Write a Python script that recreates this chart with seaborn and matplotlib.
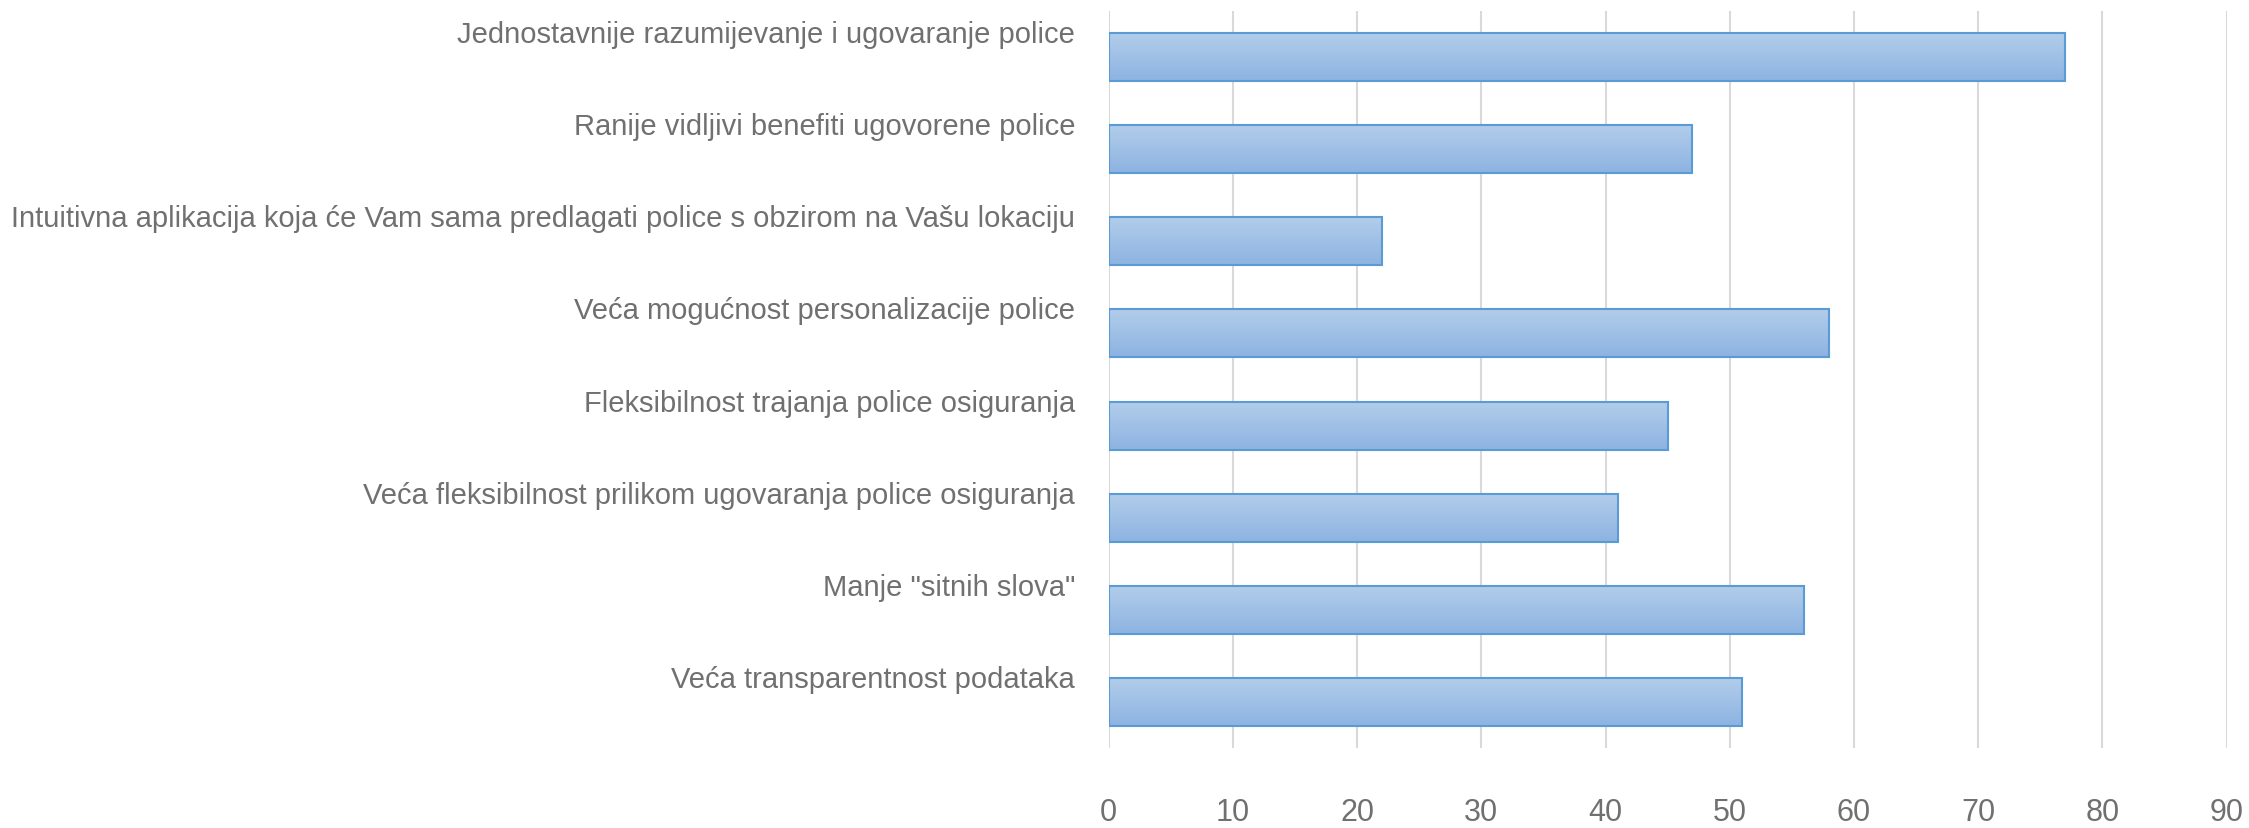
# Gráfico de barras horizontales con degradado
import numpy as np
import pandas as pd
import matplotlib.pyplot as plt
import seaborn as sns
from matplotlib.transforms import blended_transform_factory

# Datos
kategorije = [
    'Jednostavnije razumijevanje i ugovaranje police',
    'Ranije vidljivi benefiti ugovorene police',
    'Intuitivna aplikacija koja će Vam sama predlagati police s obzirom na Vašu lokaciju',
    'Veća mogućnost personalizacije police',
    'Fleksibilnost trajanja police osiguranja',
    'Veća fleksibilnost prilikom ugovaranja police osiguranja',
    'Manje "sitnih slova"',
    'Veća transparentnost podataka',
]
vrijednosti = [77, 47, 22, 58, 45, 41, 56, 51]
x_ticks = [0, 10, 20, 30, 40, 50, 60, 70, 80, 90]

df = pd.DataFrame({'kategorija': kategorije, 'vrijednost': vrijednosti})

sns.set_style('white')
plt.rcParams['font.family'] = ['Liberation Sans Narrow', 'Liberation Sans', 'DejaVu Sans']

fig = plt.figure(figsize=(22.49, 8.29), dpi=100)
ax = fig.add_axes([0.493, 0.0965, 0.497, 0.889])

sns.barplot(data=df, x='vrijednost', y='kategorija', orient='h', width=0.52,
            color='#9dbde6', edgecolor='#5b9bd5', linewidth=1.5, ax=ax, zorder=3)

# Degradado dentro de cada barra
grad = np.linspace(0, 1, 256).reshape(-1, 1)
cmap = sns.blend_palette(['#b2cdea', '#8db3e2'], as_cmap=True)
for p in ax.patches:
    x0, y0 = p.get_x(), p.get_y()
    w, h = p.get_width(), p.get_height()
    im = ax.imshow(grad, extent=[x0, x0 + w, y0 + h, y0], aspect='auto',
                   cmap=cmap, zorder=2, interpolation='bilinear')
    im.set_clip_path(p)
    p.set_facecolor('none')

ax.set_xlim(0, 90)
ax.set_ylim(len(kategorije) - 0.5, -0.5)
ax.set_xticks(x_ticks)
ax.set_xticklabels([str(t) for t in x_ticks])
ax.tick_params(axis='x', length=0, pad=35, labelsize=22, labelcolor='#707070')
ax.set_yticks([])
ax.set_xlabel('')
ax.set_ylabel('')
ax.grid(axis='x', color='#d9d9d9', linewidth=1.5, zorder=0)
ax.set_axisbelow(True)
for s in ax.spines.values():
    s.set_visible(False)

# Etiquetas de categorías (alineadas arriba de cada barra)
trans = blended_transform_factory(ax.transAxes, ax.transData)
for i, k in enumerate(kategorije):
    ax.text(-0.03, i - 0.25, k, transform=trans, ha='right', va='center',
            fontsize=21, color='#707070')

fig.savefig('out.png', dpi=100)
